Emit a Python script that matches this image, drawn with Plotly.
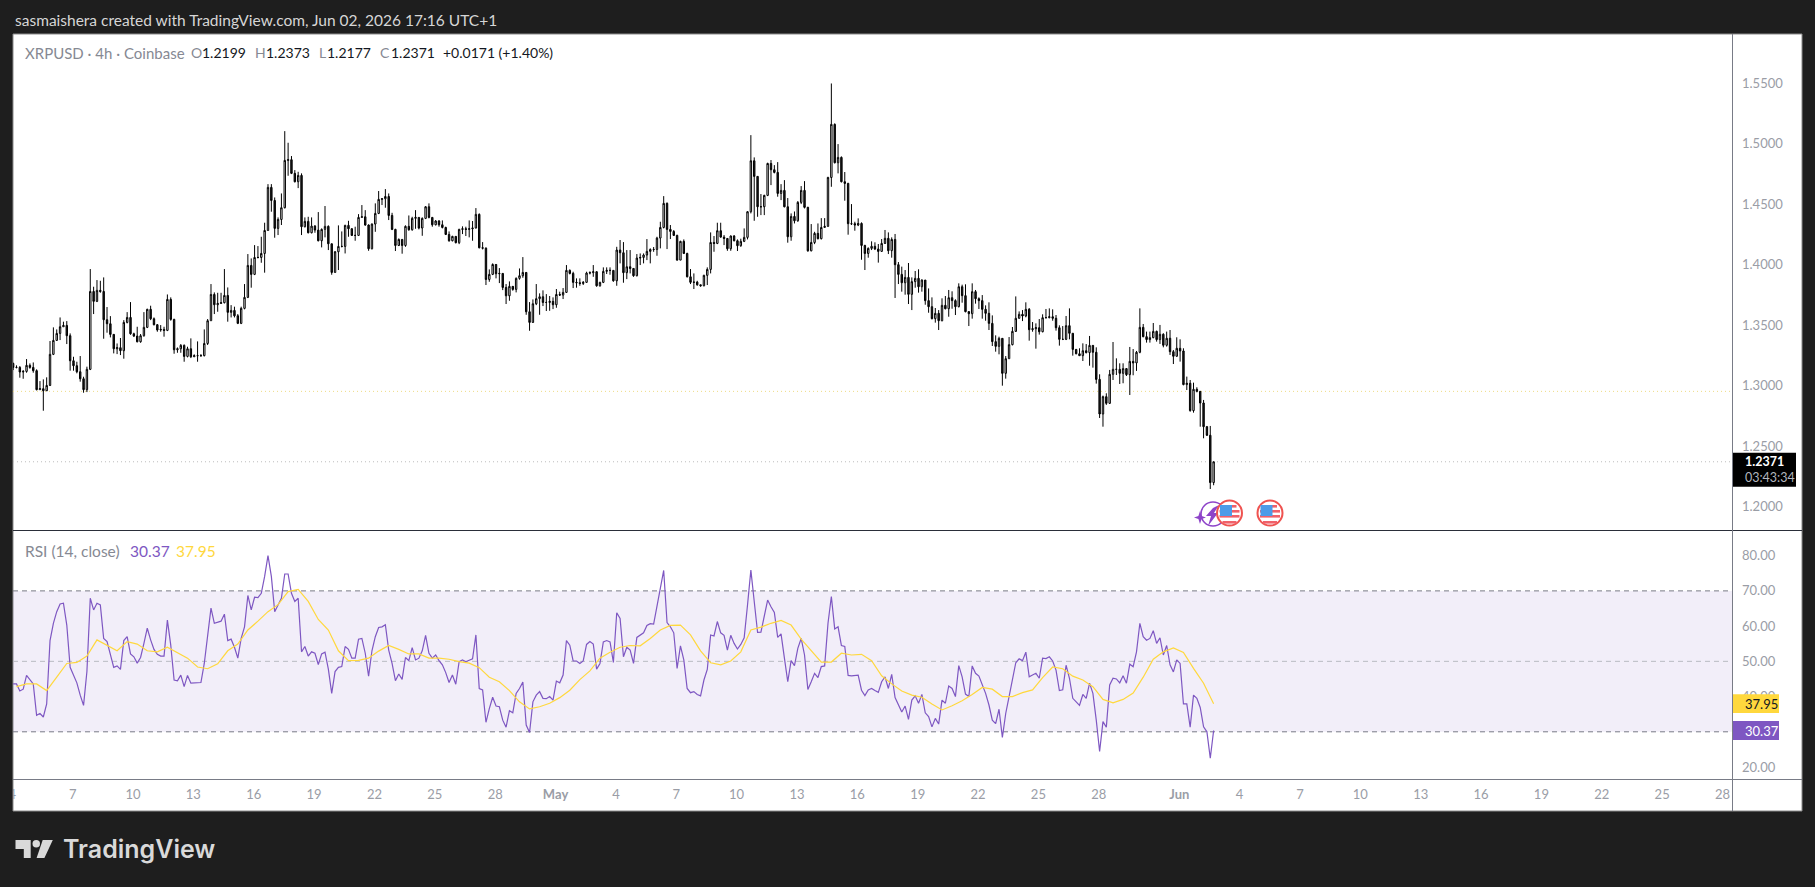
import pandas as pd
import plotly.graph_objects as go

# XRPUSD 4h bars from Coinbase; each bar opens where the previous one closed.
first_open = 1.3184
closes = [
    1.3151,1.3151,1.3113,1.3118,1.3168,1.3151,1.3124,1.2967,1.2975,1.2958,
    1.3002,1.3259,1.3374,1.3432,1.3487,1.3498,1.3413,1.3206,1.3165,1.3115,
    1.3057,1.2967,1.3135,1.3779,1.3697,1.3788,1.3779,1.3545,1.3512,1.3424,
    1.3305,1.3314,1.3289,1.3523,1.3564,1.3429,1.3410,1.3363,1.3413,1.3482,
    1.3631,1.3553,1.3504,1.3460,1.3465,1.3457,1.3713,1.3548,1.3297,1.3305,
    1.3333,1.3242,1.3305,1.3239,1.3248,1.3248,1.3248,1.3349,1.3537,1.3754,
    1.3669,1.3680,1.3686,1.3746,1.3606,1.3622,1.3578,1.3515,1.3639,1.3730,
    1.3994,1.3920,1.4060,1.4060,1.4093,1.4283,1.4639,1.4531,1.4300,1.4374,
    1.4471,1.4862,1.4868,1.4755,1.4686,1.4738,1.4314,1.4358,1.4264,1.4319,
    1.4286,1.4198,1.4292,1.4317,1.4173,1.3936,1.4107,1.4151,1.4151,1.4325,
    1.4297,1.4242,1.4242,1.4391,1.4396,1.4328,1.4132,1.4336,1.4424,1.4540,
    1.4545,1.4564,1.4407,1.4292,1.4159,1.4209,1.4159,1.4317,1.4289,1.4383,
    1.4391,1.4303,1.4383,1.4479,1.4391,1.4330,1.4361,1.4330,1.4308,1.4250,
    1.4198,1.4234,1.4182,1.4292,1.4297,1.4292,1.4297,1.4303,1.4416,1.4140,
    1.4137,1.3878,1.3920,1.4002,1.3925,1.3928,1.3812,1.3743,1.3821,1.3796,
    1.3887,1.3909,1.3936,1.3611,1.3523,1.3677,1.3719,1.3735,1.3688,1.3688,
    1.3697,1.3669,1.3754,1.3749,1.3771,1.3953,1.3928,1.3854,1.3851,1.3845,
    1.3854,1.3931,1.3934,1.3942,1.3826,1.3854,1.3945,1.3953,1.3953,1.3867,
    1.4121,1.4099,1.3934,1.3983,1.3969,1.3909,1.4055,1.4060,1.4080,1.4110,
    1.4126,1.4126,1.4220,1.4308,1.4507,1.4292,1.4275,1.4242,1.4038,1.4193,
    1.4093,1.3900,1.3854,1.3856,1.3834,1.3826,1.3912,1.3961,1.4184,1.4176,
    1.4281,1.4228,1.4217,1.4132,1.4237,1.4198,1.4157,1.4193,1.4226,1.4438,
    1.4859,1.4730,1.4479,1.4479,1.4573,1.4837,1.4785,1.4763,1.4589,1.4614,
    1.4479,1.4231,1.4399,1.4363,1.4515,1.4614,1.4474,1.4115,1.4184,1.4259,
    1.4215,1.4308,1.4317,1.4721,1.5160,1.4843,1.4887,1.4686,1.4672,1.4339,
    1.4339,1.4328,1.4341,1.4159,1.4093,1.4135,1.4152,1.4130,1.4110,1.4176,
    1.4218,1.4116,1.4209,1.4000,1.3920,1.3851,1.3895,1.3755,1.3860,1.3887,
    1.3818,1.3873,1.3703,1.3653,1.3554,1.3598,1.3537,1.3664,1.3636,1.3727,
    1.3703,1.3653,1.3818,1.3744,1.3612,1.3595,1.3777,1.3719,1.3703,1.3631,
    1.3598,1.3515,1.3364,1.3325,1.3391,1.3102,1.3223,1.3339,1.3449,1.3557,
    1.3590,1.3576,1.3631,1.3463,1.3471,1.3479,1.3446,1.3562,1.3562,1.3570,
    1.3557,1.3479,1.3383,1.3383,1.3496,1.3433,1.3300,1.3264,1.3248,1.3289,
    1.3273,1.3333,1.3276,1.3052,1.2766,1.2909,1.2854,1.3094,1.3135,1.3135,
    1.3102,1.3141,1.3091,1.3201,1.3188,1.3276,1.3482,1.3405,1.3381,1.3397,
    1.3449,1.3381,1.3425,1.3334,1.3392,1.3281,1.3243,1.3309,1.3287,1.3009,
    1.3020,1.2794,1.2970,1.2953,1.2857,1.2661,1.2590,1.2199,1.2371,
]
highs = [
    1.3190,1.3168,1.3162,1.3129,1.3220,1.3184,1.3192,1.3135,1.3038,1.3052,
    1.3069,1.3369,1.3482,1.3465,1.3564,1.3529,1.3534,1.3432,1.3239,1.3198,
    1.3245,1.3074,1.3157,1.3964,1.3818,1.3873,1.3867,1.3895,1.3650,1.3575,
    1.3427,1.3349,1.3394,1.3542,1.3608,1.3691,1.3438,1.3487,1.3427,1.3608,
    1.3636,1.3661,1.3564,1.3509,1.3501,1.3487,1.3754,1.3730,1.3553,1.3316,
    1.3344,1.3341,1.3322,1.3391,1.3259,1.3366,1.3261,1.3465,1.3551,1.3840,
    1.3771,1.3768,1.3768,1.3964,1.3812,1.3666,1.3653,1.3592,1.3653,1.3840,
    1.4088,1.4052,1.4162,1.4154,1.4231,1.4347,1.4666,1.4666,1.4556,1.4391,
    1.4589,1.5104,1.5008,1.4898,1.4782,1.4768,1.4755,1.4391,1.4396,1.4391,
    1.4328,1.4435,1.4300,1.4485,1.4325,1.4170,1.4113,1.4325,1.4275,1.4330,
    1.4363,1.4303,1.4314,1.4418,1.4493,1.4451,1.4333,1.4341,1.4507,1.4609,
    1.4551,1.4625,1.4589,1.4429,1.4297,1.4217,1.4209,1.4325,1.4407,1.4396,
    1.4451,1.4330,1.4391,1.4485,1.4507,1.4391,1.4369,1.4369,1.4366,1.4314,
    1.4275,1.4239,1.4237,1.4297,1.4317,1.4314,1.4366,1.4361,1.4468,1.4424,
    1.4187,1.4143,1.3961,1.4011,1.4005,1.3972,1.3928,1.3840,1.3862,1.3823,
    1.3895,1.3969,1.4063,1.3939,1.3691,1.3713,1.3840,1.3763,1.3788,1.3757,
    1.3741,1.3730,1.3799,1.3777,1.3807,1.3997,1.3961,1.3942,1.3887,1.3887,
    1.3865,1.3942,1.3945,1.3997,1.3945,1.3859,1.3978,1.3978,1.3978,1.3945,
    1.4148,1.4204,1.4187,1.4121,1.4121,1.3969,1.4088,1.4093,1.4093,1.4212,
    1.4135,1.4146,1.4231,1.4355,1.4567,1.4515,1.4328,1.4286,1.4248,1.4198,
    1.4209,1.4099,1.3964,1.3928,1.3867,1.3834,1.3917,1.3978,1.4267,1.4237,
    1.4347,1.4347,1.4245,1.4220,1.4242,1.4245,1.4209,1.4215,1.4300,1.4443,
    1.5071,1.4887,1.4733,1.4584,1.4578,1.4843,1.4865,1.4823,1.4848,1.4666,
    1.4699,1.4551,1.4424,1.4440,1.4526,1.4650,1.4691,1.4479,1.4336,1.4272,
    1.4341,1.4385,1.4385,1.4727,1.5498,1.5168,1.4997,1.4895,1.4766,1.4677,
    1.4501,1.4355,1.4383,1.4350,1.4165,1.4143,1.4193,1.4185,1.4171,1.4212,
    1.4287,1.4267,1.4226,1.4254,1.4022,1.3984,1.3956,1.4014,1.3895,1.3948,
    1.3962,1.3879,1.3873,1.3804,1.3730,1.3642,1.3625,1.3722,1.3741,1.3791,
    1.3780,1.3714,1.3846,1.3835,1.3838,1.3617,1.3846,1.3791,1.3730,1.3749,
    1.3664,1.3689,1.3581,1.3416,1.3405,1.3394,1.3245,1.3402,1.3485,1.3738,
    1.3614,1.3625,1.3689,1.3642,1.3526,1.3515,1.3551,1.3590,1.3634,1.3639,
    1.3631,1.3584,1.3499,1.3493,1.3576,1.3639,1.3392,1.3303,1.3309,1.3350,
    1.3344,1.3411,1.3336,1.3317,1.3094,1.2918,1.2937,1.3130,1.3361,1.3226,
    1.3185,1.3185,1.3146,1.3320,1.3303,1.3287,1.3639,1.3510,1.3447,1.3447,
    1.3518,1.3455,1.3502,1.3433,1.3447,1.3460,1.3295,1.3400,1.3383,1.3309,
    1.3075,1.3047,1.3025,1.2987,1.2956,1.2882,1.2667,1.2667,1.2373,
]
lows = [
    1.3129,1.3143,1.3066,1.3057,1.3107,1.3140,1.3107,1.2961,1.2969,1.2793,
    1.2956,1.2997,1.3253,1.3372,1.3377,1.3487,1.3344,1.3124,1.3124,1.3102,
    1.3033,1.2942,1.2947,1.3129,1.3592,1.3691,1.3768,1.3388,1.3438,1.3399,
    1.3267,1.3261,1.3253,1.3223,1.3515,1.3421,1.3402,1.3358,1.3355,1.3405,
    1.3476,1.3542,1.3498,1.3446,1.3446,1.3405,1.3451,1.3537,1.3264,1.3272,
    1.3272,1.3198,1.3234,1.3228,1.3239,1.3198,1.3239,1.3242,1.3336,1.3537,
    1.3592,1.3611,1.3675,1.3680,1.3529,1.3564,1.3564,1.3509,1.3509,1.3631,
    1.3724,1.3810,1.3914,1.4052,1.4016,1.3934,1.4283,1.4438,1.4223,1.4245,
    1.4328,1.4465,1.4735,1.4749,1.4680,1.4633,1.4245,1.4308,1.4259,1.4259,
    1.4264,1.4193,1.4143,1.4226,1.4121,1.3917,1.3936,1.3956,1.4143,1.4093,
    1.4231,1.4237,1.4198,1.4237,1.4391,1.4322,1.4115,1.4126,1.4272,1.4418,
    1.4493,1.4471,1.4369,1.4286,1.4113,1.4154,1.4091,1.4148,1.4281,1.4281,
    1.4297,1.4292,1.4239,1.4377,1.4383,1.4314,1.4325,1.4314,1.4300,1.4245,
    1.4190,1.4193,1.4176,1.4170,1.4253,1.4237,1.4226,1.4198,1.4300,1.4135,
    1.4126,1.3832,1.3859,1.3914,1.3887,1.3848,1.3790,1.3675,1.3702,1.3785,
    1.3771,1.3876,1.3892,1.3586,1.3454,1.3520,1.3666,1.3586,1.3658,1.3617,
    1.3619,1.3633,1.3644,1.3741,1.3716,1.3766,1.3920,1.3807,1.3810,1.3826,
    1.3832,1.3851,1.3920,1.3900,1.3818,1.3818,1.3848,1.3923,1.3917,1.3859,
    1.3826,1.4011,1.3851,1.3881,1.3928,1.3900,1.3903,1.3997,1.4011,1.4038,
    1.4011,1.4107,1.4074,1.4135,1.4300,1.4129,1.4212,1.4237,1.4033,1.4038,
    1.4088,1.3895,1.3840,1.3799,1.3826,1.3818,1.3821,1.3832,1.3928,1.4107,
    1.4170,1.4223,1.4162,1.4115,1.4115,1.4193,1.4113,1.4148,1.4187,1.4209,
    1.4424,1.4363,1.4396,1.4410,1.4410,1.4567,1.4658,1.4755,1.4562,1.4534,
    1.4474,1.4182,1.4198,1.4341,1.4355,1.4501,1.4465,1.4107,1.4110,1.4170,
    1.4209,1.4209,1.4308,1.4314,1.4644,1.4837,1.4755,1.4680,1.4529,1.4248,
    1.4328,1.4281,1.4319,1.4041,1.3956,1.4058,1.4121,1.4121,1.4017,1.4108,
    1.4171,1.4088,1.4058,1.3725,1.3840,1.3777,1.3752,1.3675,1.3625,1.3810,
    1.3769,1.3777,1.3669,1.3603,1.3548,1.3521,1.3460,1.3532,1.3631,1.3570,
    1.3636,1.3584,1.3647,1.3686,1.3606,1.3493,1.3554,1.3678,1.3634,1.3554,
    1.3537,1.3460,1.3328,1.3281,1.3259,1.3000,1.3058,1.3223,1.3333,1.3444,
    1.3554,1.3534,1.3565,1.3372,1.3446,1.3306,1.3422,1.3441,1.3557,1.3557,
    1.3537,1.3455,1.3331,1.3377,1.3377,1.3383,1.3248,1.3259,1.3245,1.3204,
    1.3267,1.3165,1.3149,1.3017,1.2733,1.2661,1.2841,1.2849,1.3047,1.3088,
    1.3014,1.3020,1.3080,1.2923,1.3086,1.3122,1.3268,1.3400,1.3356,1.3356,
    1.3392,1.3364,1.3345,1.3317,1.3323,1.3254,1.3179,1.3240,1.3199,1.3003,
    1.2964,1.2785,1.2777,1.2945,1.2661,1.2565,1.2584,1.2146,1.2177,
]
rsi = [
    43.6,43.6,41.6,42.1,46.0,44.7,43.6,34.7,35.2,34.2,
    37.9,55.9,60.8,64.1,66.3,66.5,60.3,48.3,46.3,43.9,
    40.4,37.5,47.1,67.9,64.6,66.5,66.0,56.5,55.6,52.1,
    48.3,48.7,47.7,55.9,57.0,52.1,51.3,49.5,51.1,55.1,
    59.4,56.1,53.4,52.0,51.5,51.5,61.7,54.6,44.7,44.5,
    46.1,42.8,46.0,43.8,43.8,43.8,44.0,49.4,58.0,65.1,
    60.8,61.1,61.4,63.4,55.9,56.3,54.0,50.9,56.5,59.8,
    68.7,64.6,68.2,68.1,69.3,74.1,80.0,74.1,64.1,66.0,
    67.9,74.8,74.8,69.3,67.0,67.9,52.7,54.2,51.5,52.7,
    52.3,49.1,52.1,52.6,47.8,40.9,47.1,48.3,48.5,54.2,
    53.4,50.9,50.9,56.3,56.5,52.3,45.8,53.0,57.0,59.6,
    59.8,60.4,53.2,49.4,44.5,46.4,44.9,51.1,50.2,53.9,
    50.4,50.9,53.0,57.4,52.3,50.9,51.8,50.2,49.0,46.8,
    44.0,46.1,43.5,49.9,50.4,49.9,50.4,50.7,57.5,42.3,
    41.9,32.7,36.6,39.8,37.3,37.1,33.3,31.3,36.0,35.4,
    40.9,42.3,44.1,31.9,29.8,38.5,40.4,41.4,39.5,39.4,
    40.0,39.0,44.4,43.9,46.1,55.9,54.6,50.1,50.1,49.4,
    50.1,54.8,55.6,54.9,47.8,49.4,55.5,55.9,55.5,49.7,
    63.8,62.2,51.3,54.0,53.2,49.4,56.8,57.5,58.1,60.2,
    60.7,60.6,65.5,70.7,75.8,61.0,59.8,58.1,48.0,54.4,
    50.4,42.3,41.1,41.4,40.6,40.2,44.7,47.7,57.5,57.2,
    61.3,58.1,57.4,53.2,57.4,55.1,53.5,54.8,56.7,66.0,
    75.9,67.0,58.2,58.3,62.7,67.4,65.5,63.9,56.8,57.8,
    50.9,44.2,50.2,48.8,53.7,56.5,51.8,42.0,44.2,46.6,
    45.4,48.5,48.7,60.8,68.4,59.2,59.8,54.5,54.2,46.0,
    45.9,45.9,46.1,41.8,40.3,41.9,42.3,41.7,41.2,44.2,
    45.6,42.3,46.3,39.7,37.6,35.6,37.3,33.5,39.0,40.2,
    38.1,40.6,35.4,34.3,31.4,33.8,32.2,39.0,38.1,43.0,
    42.3,40.0,48.8,45.6,40.7,40.0,48.7,46.6,45.8,43.3,
    40.9,37.6,33.3,32.3,36.4,28.4,35.2,40.0,45.2,49.6,
    50.7,50.2,52.6,45.6,46.1,46.6,45.2,50.9,50.8,51.3,
    50.1,47.5,41.7,41.9,48.9,45.2,39.5,38.4,37.5,40.6,
    39.5,43.8,40.9,33.3,24.4,32.9,31.3,43.3,45.2,45.0,
    43.9,45.9,43.8,49.2,48.5,52.7,60.8,57.0,56.0,56.5,
    58.7,55.1,56.7,51.8,54.5,49.0,47.0,50.4,49.4,37.9,
    37.9,31.3,40.4,39.5,36.9,31.4,30.0,22.5,30.37,
]
# Moving average of the RSI, sampled every third bar starting from the second.
rsi_ma = [
    42.8,43.6,43.6,41.7,45.5,49.4,49.7,51.5,56.1,54.5,
    53.0,55.6,54.9,53.0,52.7,54.0,52.4,50.9,48.4,47.9,
    49.3,53.0,54.9,58.9,61.4,64.1,66.1,69.8,70.4,67.0,
    61.9,58.9,53.0,50.2,50.3,50.9,52.9,54.5,53.4,52.1,
    52.1,50.9,50.9,50.6,49.9,49.5,48.2,45.5,44.2,41.7,
    38.5,36.5,37.1,38.1,39.7,41.8,44.8,47.3,50.9,52.6,
    54.0,54.5,54.4,56.5,58.9,60.2,60.3,57.5,53.0,49.6,
    49.0,50.1,52.7,58.9,59.7,60.8,61.6,60.3,56.3,53.2,
    49.8,49.8,52.3,51.8,52.0,50.2,45.9,43.6,41.6,40.4,
    39.8,37.9,36.2,37.4,38.8,40.6,42.6,42.1,40.0,40.0,
    41.1,41.9,45.4,48.4,47.9,45.8,44.7,42.8,39.2,38.2,
    39.2,41.0,45.5,50.6,52.7,53.8,52.5,48.0,43.8,37.95,
]

price_ticks = [1.20, 1.25, 1.30, 1.35, 1.40, 1.45, 1.50, 1.55]
price_tick_labels = ["1.2000", "1.2500", "1.3000", "1.3500", "1.4000", "1.4500", "1.5000", "1.5500"]
rsi_ticks = [20, 40, 50, 60, 70, 80]
rsi_tick_labels = ["20.00", "40.00", "50.00", "60.00", "70.00", "80.00"]
date_ticks = [
    "2026-04-07", "2026-04-10", "2026-04-13", "2026-04-16", "2026-04-19", "2026-04-22", "2026-04-25", "2026-04-28",
    "2026-05-01", "2026-05-04", "2026-05-07", "2026-05-10", "2026-05-13", "2026-05-16", "2026-05-19", "2026-05-22",
    "2026-05-25", "2026-05-28", "2026-06-01", "2026-06-04", "2026-06-07", "2026-06-10", "2026-06-13", "2026-06-16",
    "2026-06-19", "2026-06-22", "2026-06-25", "2026-06-28",
]
date_tick_labels = [
    "7", "10", "13", "16", "19", "22", "25", "28",
    "<b>May</b>", "4", "7", "10", "13", "16", "19", "22",
    "25", "28", "<b>Jun</b>", "4", "7", "10", "13", "16",
    "19", "22", "25", "28",
]
level_line = 1.2953
last_price = 1.2371
rsi_last = 30.37
rsi_ma_last = 37.95

assert len(closes) == len(highs) == len(lows) == len(rsi), (len(closes), len(highs), len(lows), len(rsi))

times = pd.date_range("2026-04-04 01:00", periods=len(closes), freq="4h")
opens = [first_open] + closes[:-1]
highs = [max(h, o, c) for h, o, c in zip(highs, opens, closes)]
lows = [min(l, o, c) for l, o, c in zip(lows, opens, closes)]

WIDTH, HEIGHT = 1815, 887
FONT = "Lato"
BG = "#1e1e1e"
FRAME = "#787b86"
AXIS_TEXT = "#9a9da6"
X_RANGE = ["2026-04-04 00:50", "2026-06-28 11:20"]


def px(x):
    return x / WIDTH


def py(y):
    return 1 - y / HEIGHT


def paper_shape(kind, x0, y0, x1, y1, **style):
    return dict(type=kind, xref="paper", yref="paper", x0=px(x0), x1=px(x1), y0=py(y0), y1=py(y1), **style)


def poly(points, close=True):
    body = " L ".join(f"{px(x):.5f} {py(y):.5f}" for x, y in points)
    return "M " + body + (" Z" if close else "")


def label(text, x, y, color, size=14, anchor="left", family=FONT, weight=None):
    font = dict(family=family, size=size, color=color)
    if weight:
        font["weight"] = weight
    return dict(text=text, x=px(x), y=py(y), xref="paper", yref="paper", xanchor=anchor, yanchor="middle",
                showarrow=False, font=font)


fig = go.Figure()
fig.add_trace(go.Candlestick(
    x=times, open=opens, high=highs, low=lows, close=closes, xaxis="x", yaxis="y",
    whiskerwidth=0,
    increasing=dict(line=dict(color="#000000", width=1), fillcolor="#ffffff"),
    decreasing=dict(line=dict(color="#000000", width=1), fillcolor="#1c1c1c"),
    showlegend=False,
))
fig.add_trace(go.Scatter(x=times, y=rsi, mode="lines", xaxis="x2", yaxis="y2",
                         line=dict(color="#7e57c2", width=1.2), showlegend=False))
fig.add_trace(go.Scatter(x=times[1::3], y=rsi_ma, mode="lines", xaxis="x2", yaxis="y2",
                         line=dict(color="#ffd83d", width=1.2), showlegend=False))
# Label of the partly hidden first date tick, clipped by its own strip under the RSI pane.
fig.add_trace(go.Scatter(x=["2026-04-04 00:00"], y=[0], mode="text", text=["4"], xaxis="x3", yaxis="y3",
                         textfont=dict(family=FONT, size=13, color=AXIS_TEXT), showlegend=False, cliponaxis=True))

shapes = [
    # panel behind both panes
    paper_shape("rect", 13, 34, 1802, 811, fillcolor="#ffffff", line=dict(color="#8a8a8a", width=1), layer="below"),
    # RSI band and its reference lines
    dict(type="rect", xref="x2", yref="y2", x0=X_RANGE[0], x1=X_RANGE[1], y0=30, y1=70,
         fillcolor="rgba(126,87,194,0.1)", line=dict(width=0), layer="below"),
    dict(type="line", xref="x2", yref="y2", x0=X_RANGE[0], x1=X_RANGE[1], y0=70, y1=70,
         line=dict(color=FRAME, width=1, dash="5px,4px"), layer="below"),
    dict(type="line", xref="x2", yref="y2", x0=X_RANGE[0], x1=X_RANGE[1], y0=50, y1=50,
         line=dict(color="#b9bbc2", width=1, dash="5px,4px"), layer="below"),
    dict(type="line", xref="x2", yref="y2", x0=X_RANGE[0], x1=X_RANGE[1], y0=30, y1=30,
         line=dict(color=FRAME, width=1, dash="5px,4px"), layer="below"),
    # horizontal price levels
    dict(type="line", xref="x", yref="y", x0=X_RANGE[0], x1=X_RANGE[1], y0=level_line, y1=level_line,
         line=dict(color="#eedb85", width=1, dash="1px,3px"), layer="below"),
    dict(type="line", xref="x", yref="y", x0=X_RANGE[0], x1=X_RANGE[1], y0=last_price, y1=last_price,
         line=dict(color="#bdbdbd", width=1, dash="1px,3px"), layer="below"),
    # pane separators
    paper_shape("line", 13, 530.5, 1802, 530.5, line=dict(color="#2a2e39", width=1)),
    paper_shape("line", 13, 779.5, 1802, 779.5, line=dict(color=FRAME, width=1)),
    paper_shape("line", 1732.5, 34, 1732.5, 811, line=dict(color=FRAME, width=1)),
    # value tags on the right axis
    dict(type="rect", xref="paper", yref="y", x0=px(1733), x1=px(1796), y0=last_price + 0.0074, y1=last_price - 0.0207,
         fillcolor="#000000", line=dict(width=0)),
    dict(type="rect", xref="paper", yref="y2", x0=px(1733), x1=px(1779), y0=rsi_ma_last + 2.7, y1=rsi_ma_last - 2.6,
         fillcolor="#ffd83d", line=dict(width=0)),
    dict(type="rect", xref="paper", yref="y2", x0=px(1733), x1=px(1779), y0=rsi_last + 2.7, y1=rsi_last - 2.7,
         fillcolor="#7e57c2", line=dict(width=0)),
]

# Event markers under the last candles: a purple lightning badge and two US flag badges.
shapes.append(paper_shape("circle", 1201, 502, 1225, 526, line=dict(color="#8e44c9", width=1.6)))
shapes.append(dict(type="path", xref="paper", yref="paper", line=dict(width=0), fillcolor="#8e44c9",
                   path=poly([(1213, 508), (1219, 505), (1214, 513), (1218, 513), (1208, 526), (1211, 516), (1206, 516)])))
shapes.append(dict(type="path", xref="paper", yref="paper", line=dict(width=0), fillcolor="#8e44c9",
                   path=poly([(1200, 511), (1201.6, 516), (1206, 517.5), (1201.6, 519), (1200, 524), (1198.4, 519), (1194, 517.5), (1198.4, 516)])))
for cx in (1229.5, 1270):
    shapes.append(paper_shape("circle", cx - 12.5, 500.5, cx + 12.5, 525.5, fillcolor="#ffffff",
                              line=dict(color="#ef5350", width=2)))
    for top in (505, 510, 515, 521):
        half = 7 if top in (505, 521) else 10
        shapes.append(paper_shape("rect", cx - half, top, cx + half, top + 2.6, fillcolor="#f0616a", line=dict(width=0)))
    shapes.append(paper_shape("rect", cx - 9.5, 505, cx + 2.5, 516, fillcolor="#4c9be8", line=dict(width=0)))

# TradingView logo mark in the footer
logo = "#d9d9d9"
shapes.append(dict(type="path", xref="paper", yref="paper", fillcolor=logo, line=dict(width=0),
                   path=poly([(15.5, 840), (30.7, 840), (30.7, 858), (23.8, 858), (23.8, 849), (15.5, 849)])))
shapes.append(paper_shape("circle", 32.5, 840, 40, 847.5, fillcolor=logo, line=dict(width=0)))
shapes.append(dict(type="path", xref="paper", yref="paper", fillcolor=logo, line=dict(width=0),
                   path=poly([(42.7, 840), (52.8, 840), (44.4, 858), (36.6, 858)])))

annotations = [
    label("sasmaishera created with TradingView.com, Jun 02, 2026 17:16 UTC+1", 13, 20, "#d6d6d6", size=15.5),
    label("XRPUSD · 4h · Coinbase", 23, 53, "#868993", size=15),
    label("O", 189, 53, "#868993"), label("1.2199", 200, 53, "#131722"),
    label("H", 253, 53, "#868993"), label("1.2373", 264, 53, "#131722"),
    label("L", 317, 53, "#868993"), label("1.2177", 325, 53, "#131722"),
    label("C", 378, 53, "#868993"), label("1.2371", 389, 53, "#131722"),
    label("+0.0171 (+1.40%)", 441, 53, "#131722"),
    label("RSI (14, close)", 23, 551, "#868993", size=15.5),
    label("30.37", 128, 551, "#7e57c2", size=15.5),
    label("37.95", 174, 551, "#ffd83d", size=15.5),
    label("<b>1.2371</b>", 1743, 462, "#ffffff", size=12.5),
    label("03:43:34", 1743, 477, "#b2b5be", size=12.5),
    label("37.95", 1743, 704, "#131722", size=13),
    label("30.37", 1743, 730.5, "#ffffff", size=13),
    label("TradingView", 61, 849, logo, size=25, family="Inter", weight=600),
]

tick_font = dict(family=FONT, size=13, color=AXIS_TEXT)
fig.update_layout(
    width=WIDTH, height=HEIGHT, autosize=False,
    margin=dict(l=0, r=0, t=0, b=0),
    paper_bgcolor=BG, plot_bgcolor="rgba(0,0,0,0)",
    showlegend=False, hovermode=False, boxgap=0.4,
    shapes=shapes, annotations=annotations,
    xaxis=dict(domain=[px(13), px(1732)], range=X_RANGE, type="date", anchor="y",
               showticklabels=False, ticks="", showgrid=False, zeroline=False, rangeslider=dict(visible=False)),
    yaxis=dict(domain=[py(530), py(34)], range=[1.1807, 1.5907], anchor="x", side="right",
               tickvals=price_ticks, ticktext=price_tick_labels, ticks="", showgrid=False, zeroline=False,
               ticklabelstandoff=9, tickfont=tick_font),
    xaxis2=dict(domain=[px(13), px(1732)], range=X_RANGE, type="date", anchor="y2",
                tickvals=date_ticks, ticktext=date_tick_labels, ticks="", showgrid=False, zeroline=False,
                tickfont=tick_font, ticklabelstandoff=6),
    yaxis2=dict(domain=[py(779), py(531)], range=[16.6, 87.0], anchor="x2", side="right",
                tickvals=rsi_ticks, ticktext=rsi_tick_labels, ticks="", showgrid=False, zeroline=False,
                ticklabelstandoff=9, tickfont=tick_font),
    xaxis3=dict(domain=[px(13), px(60)], range=["2026-04-04 00:50", "2026-04-06 12:00"], type="date", anchor="y3",
                visible=False),
    yaxis3=dict(domain=[py(811), py(780)], range=[-1, 1], anchor="x3", visible=False),
)

fig.write_html("out.html")
